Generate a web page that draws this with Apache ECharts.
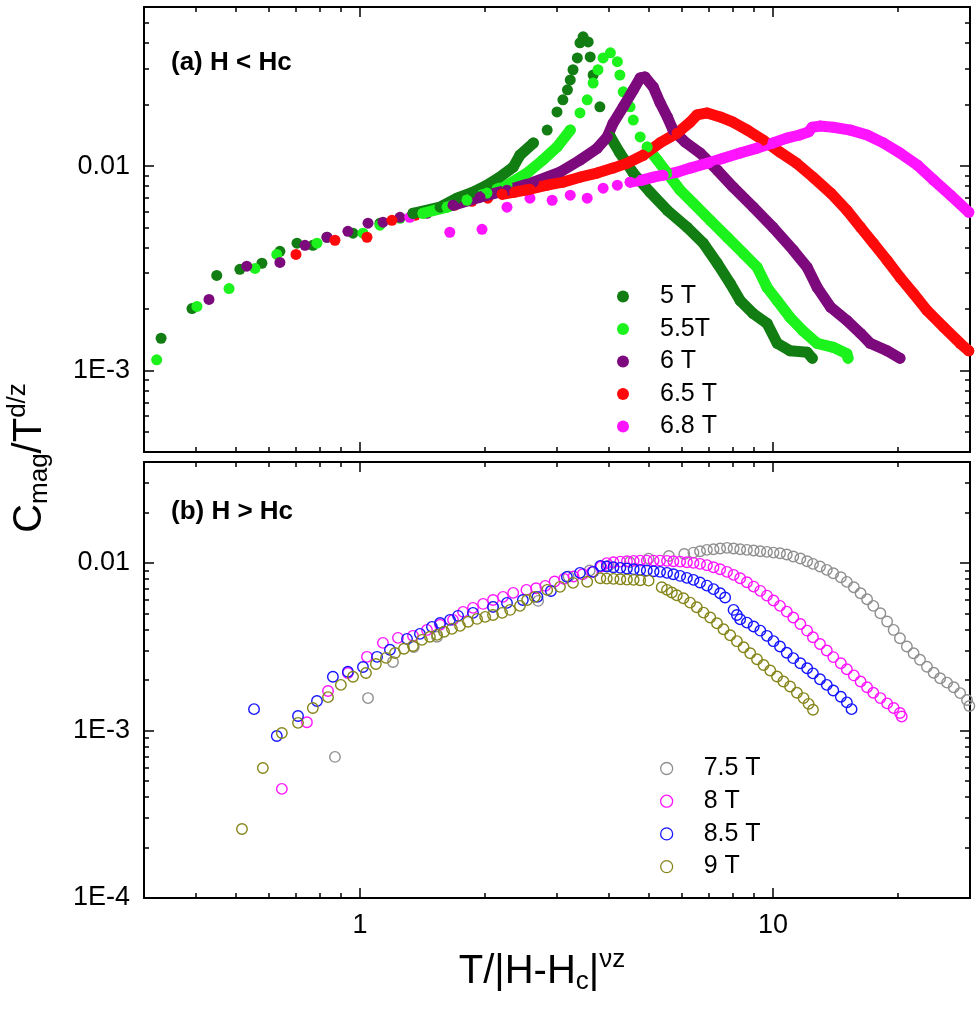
<!DOCTYPE html>
<html>
<head>
<meta charset="utf-8">
<script src="https://cdn.jsdelivr.net/npm/echarts@6.0.0/dist/echarts.min.js"></script>
<style>
  html, body { margin: 0; padding: 0; background: #fff; }
  #main { width: 980px; height: 1014px; }
</style>
</head>
<body>
<div id="main"></div>
<script>
var FONT = '"Liberation Sans", Arial, Helvetica, sans-serif';

// ---- panel (a) H < Hc : filled circles ----
// "Dots" = separate points, "Band" = the densely packed stretches
var t50Dots = [[0.330,0.00144],[0.392,0.00201],[0.450,0.00292],[0.512,0.00313],[0.579,0.00335],[0.640,0.00383],[0.704,0.00420],[0.769,0.00410],[0.832,0.00449],[0.962,0.00470],[1.118,0.00526],
  [2.84,0.0150],[3.00,0.0184],[3.10,0.0211],[3.18,0.0236],[3.23,0.0264],[3.28,0.0296],[3.36,0.0338],[3.41,0.0401],[3.47,0.0429],[3.57,0.0405],[3.61,0.0342],[3.67,0.0279],[3.81,0.0195]];
var t50BandA = [[1.344,0.00588],[1.563,0.00630],[1.718,0.00697],[1.878,0.00746],[2.03,0.00807],[2.18,0.00883],[2.35,0.00989],[2.44,0.01132],[2.63,0.01297]];
var t50BandB = [[4.04,0.0139],[4.26,0.0116],[4.59,0.00925],[5.04,0.00746],[5.55,0.00608],[6.20,0.00502],[6.78,0.00420],[7.33,0.00335],[7.88,0.00267],[8.33,0.00220],[8.96,0.00190],[9.68,0.00170],[10.24,0.00136],[11.0,0.00125],[12.1,0.00123],[12.45,0.00115]];

var t55Dots = [[0.322,0.00113],[0.403,0.00206],[0.482,0.00252],[0.557,0.00316],[0.629,0.00370],[0.787,0.00420],[1.017,0.00470],[1.118,0.00514],[1.25,0.00556],
  [3.41,0.0182],[3.55,0.0211],[3.67,0.0255],[3.77,0.0296],[3.88,0.0338],[4.04,0.0358],[4.20,0.0324],[4.26,0.0279],[4.34,0.0231],[4.51,0.0195],[4.59,0.0168],[4.77,0.0139]];
var t55BandA = [[1.42,0.00588],[1.625,0.00630],[1.816,0.00681],[2.03,0.00738],[2.27,0.00807],[2.54,0.00925],[2.77,0.0107],[3.00,0.0124],[3.23,0.0150]];
var t55BandB = [[4.96,0.0124],[5.25,0.0107],[5.55,0.00925],[5.96,0.00763],[6.41,0.00659],[7.05,0.00543],[7.75,0.00449],[8.47,0.00375],[9.16,0.00320],[9.68,0.00255],[10.24,0.00220],[11.0,0.00182],[11.8,0.00157],[12.8,0.00136],[14.0,0.00130],[15.1,0.00121],[15.2,0.00115]];

var t60Dots = [[0.431,0.00223],[0.532,0.00324],[0.640,0.00338],[0.736,0.00410],[0.832,0.00449],[0.935,0.00480],[1.046,0.00526],[1.137,0.00532],[1.25,0.00562],[1.453,0.00588]];
var t60Band = [[1.68,0.00644],[1.953,0.00705],[2.27,0.00763],[2.63,0.00835],[3.05,0.00935],[3.41,0.0107],[3.75,0.0122],[3.97,0.0139],[4.10,0.0162],[4.34,0.0195],[4.59,0.0236],[4.77,0.0270],[4.90,0.0273],[5.13,0.0244],[5.33,0.0204],[5.55,0.0174],[5.73,0.0150],[6.13,0.0131],[6.66,0.0116],[7.33,0.00956],[8.01,0.00789],[8.96,0.00630],[10.0,0.00502],[11.2,0.00388],[12.1,0.00320],[12.8,0.00255],[13.8,0.00204],[15.1,0.00176],[16.3,0.00152],[17.2,0.00136],[18.9,0.00125],[20.3,0.00115]];

var t65Dots = [[0.700,0.00370],[0.870,0.00434],[1.040,0.00449],[1.195,0.00543],[1.36,0.00575],[1.537,0.00623],[1.70,0.00644],[1.867,0.00673],[2.04,0.00697]];
var t65Band = [[2.21,0.00729],[2.37,0.00746],[2.58,0.00771],[2.84,0.00807],[3.10,0.00835],[3.41,0.00883],[3.75,0.00925],[4.10,0.00978],[4.44,0.01034],[4.85,0.0113],[5.33,0.0130],[5.86,0.0145],[6.30,0.0164],[6.55,0.0178],[6.93,0.0182],[7.45,0.0174],[8.01,0.0164],[8.67,0.0150],[9.47,0.0134],[10.4,0.0117],[11.4,0.01034],[12.5,0.00883],[13.8,0.00738],[15.1,0.00608],[16.3,0.00502],[17.5,0.00420],[18.9,0.00346],[20.3,0.00286],[21.9,0.00238],[23.6,0.00197],[25.9,0.00163],[28.4,0.00136],[29.8,0.00125]];

var t68Dots = [[1.32,0.00562],[1.65,0.00475],[1.975,0.00491],[2.27,0.00630],[2.58,0.00697],[2.92,0.00681],[3.23,0.00721],[3.55,0.00697],[3.88,0.00780],[4.20,0.00807]];
var t68Band = [[4.51,0.00835],[4.82,0.00854],[5.13,0.00883],[5.42,0.00903],[5.86,0.00934],[6.30,0.00978],[6.93,0.01034],[7.58,0.01094],[8.33,0.01158],[9.16,0.01225],[10.0,0.01297],[10.8,0.0137],[11.6,0.0142],[12.2,0.0147],[12.45,0.0155],[13.0,0.0157],[14.0,0.0155],[15.4,0.0150],[16.9,0.0142],[18.5,0.0130],[20.3,0.0116],[22.4,0.0101],[24.5,0.00854],[26.9,0.00721],[29.8,0.00595]];

// ---- panel (b) H > Hc : open circles ----
var t75 = [[0.870,0.000695],[1.046,0.00156],[1.202,0.00256],[1.35,0.00315],[1.537,0.00362],[2.10,0.00546],[2.70,0.00593],
  [3.2,0.0083],[3.6,0.0090],[4.0,0.0096],[4.5,0.0101],[5.0,0.0106],[5.6,0.0110],[6.1,0.0113],
  [6.42,0.01152],[6.66,0.01174],[6.92,0.01196],[7.18,0.01207],[7.45,0.01218],[7.74,0.01229],[8.03,0.01218],[8.33,0.01207],[8.65,0.01196],[8.98,0.01185],[9.32,0.01174],[9.67,0.01163],[10.03,0.01152],[10.4,0.01142],[10.8,0.01121],[11.2,0.01091],[11.65,0.01061],[12.1,0.01023],[12.5,0.00986],[13.0,0.00951],[13.5,0.00908],[14.0,0.00868],[14.6,0.00821],[15.1,0.00770],[15.7,0.00716],[16.3,0.00659],[16.9,0.00607],[17.5,0.00554],[18.2,0.00500],[18.9,0.00447],[19.6,0.00398],[20.3,0.00355],[21.1,0.00317],[21.9,0.00289],[22.7,0.00264],[23.6,0.00240],[24.5,0.00221],[25.4,0.00205],[26.4,0.00193],[27.4,0.00181],[28.4,0.00167],[29.5,0.00152],[29.9,0.00140]];

var t80 = [[0.647,0.000448],[0.744,0.00112],[0.837,0.00172],[0.935,0.00220],[1.040,0.00275],[1.137,0.00333],[1.236,0.00357],[1.344,0.00367],[1.453,0.00398],[1.563,0.00427],[1.68,0.00457],[1.777,0.00510],[1.878,0.00539],[1.987,0.00569],[2.10,0.00601],[2.22,0.00627],[2.35,0.00662],[2.53,0.00690],[2.67,0.00706],[2.81,0.00729],[2.96,0.00774],[3.12,0.00803],[3.29,0.00829],[3.46,0.00856],[3.65,0.00884],[3.84,0.00951],
  [3.96,0.00996],[4.11,0.01009],[4.27,0.01018],[4.43,0.01023],[4.60,0.01028],[4.77,0.01032],[4.95,0.01032],[5.14,0.01032],[5.33,0.01032],[5.54,0.01028],[5.74,0.01023],[5.96,0.01018],[6.19,0.01009],[6.42,0.01000],[6.66,0.00986],[6.92,0.00969],[7.18,0.00942],[7.45,0.00917],[7.74,0.00884],[8.03,0.00848],[8.33,0.00810],[8.65,0.00767],[8.98,0.00722],[9.32,0.00681],[9.67,0.00638],[10.03,0.00596],[10.4,0.00554],[10.8,0.00512],[11.2,0.00472],[11.65,0.00432],[12.1,0.00394],[12.5,0.00360],[13.0,0.00328],[13.5,0.00300],[14.0,0.00274],[14.6,0.00252],[15.1,0.00232],[15.7,0.00213],[16.3,0.00196],[16.9,0.00181],[17.5,0.00168],[18.2,0.00156],[18.9,0.00145],[19.6,0.00136],[20.3,0.00127],[20.5,0.00121]];

var t85 = [[0.554,0.00134],[0.629,0.000927],[0.708,0.00122],[0.787,0.00150],[0.860,0.00209],[0.935,0.00224],[1.017,0.00239],[1.10,0.00275],[1.182,0.00303],[1.30,0.00352],[1.397,0.00377],[1.494,0.00415],[1.563,0.00438],[1.652,0.00457],[1.728,0.00483],[1.878,0.00503],[2.10,0.00546],[2.27,0.00577],[2.48,0.00601],[2.69,0.00627],[2.90,0.00680],[3.17,0.00825],[3.41,0.00872],[3.67,0.00884],
  [3.82,0.00960],[3.96,0.00951],[4.11,0.00942],[4.27,0.00934],[4.43,0.00925],[4.60,0.00917],[4.77,0.00908],[4.95,0.00900],[5.14,0.00892],[5.33,0.00884],[5.54,0.00872],[5.74,0.00856],[5.96,0.00836],[6.19,0.00814],[6.42,0.00792],[6.66,0.00763],[6.92,0.00732],[7.18,0.00697],[7.45,0.00659],[7.66,0.00621],
  [8.03,0.00524],[8.18,0.00489],[8.33,0.00461],[8.65,0.00440],[8.98,0.00417],[9.32,0.00394],[9.67,0.00367],[10.03,0.00341],[10.4,0.00317],[10.8,0.00291],[11.2,0.00270],[11.65,0.00252],[12.1,0.00235],[12.5,0.00219],[13.0,0.00202],[13.5,0.00187],[14.0,0.00173],[14.6,0.00159],[15.1,0.00147],[15.5,0.00134]];

var t90 = [[0.518,0.000258],[0.582,0.000597],[0.647,0.000966],[0.708,0.00111],[0.769,0.00136],[0.837,0.00158],[0.899,0.00187],[0.962,0.00209],[1.034,0.00220],[1.093,0.00249],[1.156,0.00271],[1.216,0.00290],[1.278,0.00307],[1.344,0.00319],[1.413,0.00347],[1.477,0.00362],[1.537,0.00372],[1.598,0.00388],[1.67,0.00404],[1.747,0.00421],[1.827,0.00445],[1.921,0.00463],[2.01,0.00476],[2.10,0.00489],[2.21,0.00503],[2.31,0.00524],[2.44,0.00554],[2.54,0.00601],[2.65,0.00627],[2.84,0.00690],[3.05,0.00719],[3.28,0.00760],[3.55,0.00771],
  [3.82,0.00810],[3.96,0.00806],[4.11,0.00803],[4.27,0.00799],[4.43,0.00795],[4.60,0.00792],[4.77,0.00788],[5.00,0.00784],
  [5.38,0.00716],[5.54,0.00690],[5.69,0.00665],[5.85,0.00641],[6.07,0.00615],[6.30,0.00579],[6.54,0.00544],[6.79,0.00505],[7.05,0.00472],[7.32,0.00436],[7.59,0.00402],[7.88,0.00370],[8.18,0.00341],[8.49,0.00314],[8.81,0.00289],[9.15,0.00266],[9.49,0.00246],[9.85,0.00228],[10.23,0.00210],[10.6,0.00196],[11.0,0.00183],[11.43,0.00168],[11.86,0.00156],[12.2,0.00144],[12.5,0.00133]];

var namesA = ['5 T', '5.5T', '6 T', '6.5 T', '6.8 T'];
var colorsA = ['#127d12', '#1cf21c', '#7d0a7d', '#ff0a0a', '#ff14ff'];
var namesB = ['7.5 T', '8 T', '8.5 T', '9 T'];
var colorsB = ['#8f8f8f', '#ff14ff', '#1414ff', '#85851a'];

var xRange = [0.3, 30];
var yRangeA = [4e-4, 0.06];
var yRangeB = [1e-4, 0.04];
var xMajor = [1, 10];
var xMinor = [0.4, 0.5, 0.6, 0.7, 0.8, 0.9, 2, 3, 4, 5, 6, 7, 8, 9, 20];
var yMajorA = [0.001, 0.01];
var yMinorA = [5e-4, 6e-4, 7e-4, 8e-4, 9e-4, 0.002, 0.003, 0.004, 0.005, 0.006, 0.007, 0.008, 0.009, 0.02, 0.03, 0.04, 0.05];
var yMajorB = [1e-4, 0.001, 0.01];
var yMinorB = [2e-4, 3e-4, 4e-4, 5e-4, 6e-4, 7e-4, 8e-4, 9e-4, 0.002, 0.003, 0.004, 0.005, 0.006, 0.007, 0.008, 0.009, 0.02, 0.03];

function fmtX(v) { return String(Math.round(v)); }
function fmtY(v) { return v > 0.005 ? '0.01' : '1E' + Math.round(Math.log10(v)); }

function axis(gi, pos, range, ticks, len, line, labels, fmt) {
  return {
    type: 'log', logBase: 10, gridIndex: gi, position: pos,
    min: range[0], max: range[1],
    axisLine: {show: line, onZero: false, lineStyle: {color: '#000', width: 2}},
    axisTick: {show: true, inside: true, length: len, customValues: ticks, lineStyle: {color: '#000', width: 1.5}},
    axisLabel: labels ? {show: true, customValues: labels, margin: 14, fontSize: 27, fontFamily: FONT, color: '#000', formatter: fmt} : {show: false},
    splitLine: {show: false},
    minorTick: {show: false}
  };
}

var xAxes = [], yAxes = [];
[0, 1].forEach(function (gi) {
  var yr = gi ? yRangeB : yRangeA, yM = gi ? yMajorB : yMajorA, ym = gi ? yMinorB : yMinorA;
  xAxes.push(axis(gi, 'bottom', xRange, xMajor, 10, true, gi ? xMajor : null, fmtX));
  xAxes.push(axis(gi, 'bottom', xRange, xMinor, 5, false, null));
  xAxes.push(axis(gi, 'top', xRange, xMajor, 10, true, null));
  xAxes.push(axis(gi, 'top', xRange, xMinor, 5, false, null));
  yAxes.push(axis(gi, 'left', yr, yM, 10, true, yM, fmtY));
  yAxes.push(axis(gi, 'left', yr, ym, 5, false, null));
  yAxes.push(axis(gi, 'right', yr, yM, 10, true, null));
  yAxes.push(axis(gi, 'right', yr, ym, 5, false, null));
});

var series = [];
function dots(name, color, data) {
  series.push({type: 'scatter', name: name, xAxisIndex: 0, yAxisIndex: 0, data: data,
    symbol: 'circle', symbolSize: 11, itemStyle: {color: color, opacity: 1}});
}
function band(name, color, data) {
  series.push({type: 'line', name: name, xAxisIndex: 0, yAxisIndex: 0, data: data,
    symbol: 'circle', symbolSize: 11, showSymbol: true,
    lineStyle: {color: color, width: 11, cap: 'round', join: 'round'}, itemStyle: {color: color, opacity: 1}});
}
function rings(name, color, data) {
  series.push({type: 'scatter', name: name, xAxisIndex: 4, yAxisIndex: 4, data: data,
    symbol: 'circle', symbolSize: 10.5,
    itemStyle: {color: 'rgba(0,0,0,0)', borderColor: color, borderWidth: 1.4, opacity: 1}});
}

dots(namesA[0], colorsA[0], t50Dots); band(namesA[0], colorsA[0], t50BandA); band(namesA[0], colorsA[0], t50BandB);
dots(namesA[1], colorsA[1], t55Dots); band(namesA[1], colorsA[1], t55BandA); band(namesA[1], colorsA[1], t55BandB);
dots(namesA[2], colorsA[2], t60Dots); band(namesA[2], colorsA[2], t60Band);
dots(namesA[3], colorsA[3], t65Dots); band(namesA[3], colorsA[3], t65Band);
dots(namesA[4], colorsA[4], t68Dots); band(namesA[4], colorsA[4], t68Band);
rings(namesB[0], colorsB[0], t75);
rings(namesB[1], colorsB[1], t80);
rings(namesB[2], colorsB[2], t85);
rings(namesB[3], colorsB[3], t90);

// titles built from pieces so sub/superscripts can sit off the baseline
var mctx = document.createElement('canvas').getContext('2d');
function textWidth(s, size) { mctx.font = size + 'px ' + FONT; return mctx.measureText(s).width; }
function titleGroup(parts, x, y, rot) {
  var total = 0;
  parts.forEach(function (p) { total += textWidth(p[0], p[1]); });
  var cx = -total / 2, children = [];
  parts.forEach(function (p) {
    children.push({type: 'text', x: cx, y: p[2],
      style: {text: p[0], font: p[1] + 'px ' + FONT, fill: '#000', align: 'left', verticalAlign: 'middle'}});
    cx += textWidth(p[0], p[1]);
  });
  return {type: 'group', x: x, y: y, rotation: rot, children: children};
}

var legendText = {fontSize: 25, fontFamily: FONT, color: '#000', lineHeight: 25, padding: [0, 0, 0, 26]};

var chart = echarts.init(document.getElementById('main'));
chart.setOption({
  animation: false,
  backgroundColor: '#fff',
  grid: [
    {left: 144, top: 7, width: 826, height: 445},
    {left: 144, top: 462, width: 826, height: 436}
  ],
  xAxis: xAxes,
  yAxis: yAxes,
  legend: [
    {orient: 'vertical', left: 617, top: 284, padding: 0, itemWidth: 12, itemHeight: 12, itemGap: 7.5,
      icon: 'circle', selectedMode: false, textStyle: legendText,
      data: namesA.map(function (n, i) { return {name: n, itemStyle: {color: colorsA[i], opacity: 1}}; })},
    {orient: 'vertical', left: 660, top: 756, padding: 0, itemWidth: 12, itemHeight: 12, itemGap: 7.7,
      icon: 'circle', selectedMode: false, textStyle: legendText,
      data: namesB.map(function (n, i) {
        return {name: n, itemStyle: {color: 'rgba(0,0,0,0)', borderColor: colorsB[i], borderWidth: 1.3, opacity: 1}};
      })}
  ],
  graphic: [
    {type: 'text', x: 171, y: 63, style: {text: '(a) H < Hc', font: 'bold 26px ' + FONT, fill: '#000', verticalAlign: 'middle'}},
    {type: 'text', x: 171, y: 512, style: {text: '(b) H > Hc', font: 'bold 26px ' + FONT, fill: '#000', verticalAlign: 'middle'}},
    titleGroup([['C', 40, 0], ['mag', 26, 10], ['/T', 40, 0], ['d/z', 26, -12]], 30, 458, Math.PI / 2),
    titleGroup([['T/|H-H', 40, 0], ['c', 26, 10], ['|', 40, 0], ['\u03BDz', 26, -12]], 542, 972, 0)
  ],
  series: series
});
</script>
</body>
</html>
